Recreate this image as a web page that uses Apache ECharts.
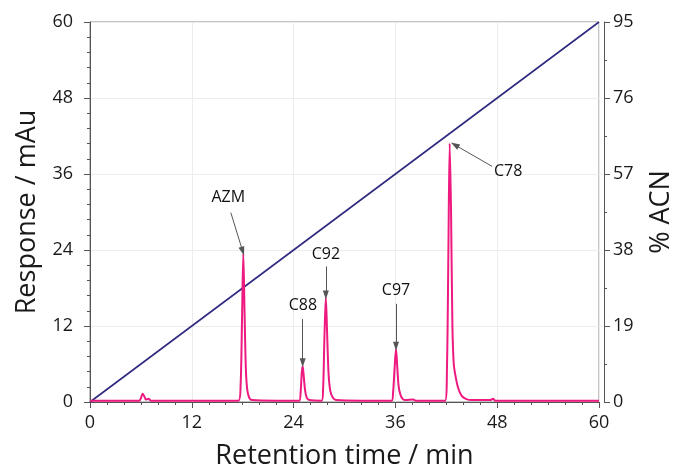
<!DOCTYPE html>
<html>
<head>
<meta charset="utf-8">
<script src="https://cdn.jsdelivr.net/npm/echarts@6/dist/echarts.min.js"></script>
<style>
  html, body { margin: 0; padding: 0; background: #fff; }
  #chart { width: 678px; height: 469px; }
</style>
</head>
<body>
<div id="chart"></div>
<script>
// retention time (min) and response (mAu)
const times = [0, 3, 5.8, 6.0, 6.2, 6.4, 6.6, 6.9, 7.2, 10, 14, 17.5, 17.75, 17.92, 18.07, 18.22, 18.38, 18.55, 18.8, 19.1,
  22, 24.65, 24.83, 24.96, 25.07, 25.2, 25.36, 25.55, 25.85, 27.3, 27.48, 27.64, 27.8, 27.96, 28.12, 28.32, 28.62, 29.0,
  32, 35.55, 35.73, 35.9, 36.07, 36.22, 36.38, 36.58, 36.85, 37.2, 38.1, 38.4, 40, 41.85, 42.08, 42.24, 42.4, 42.56, 42.72,
  42.88, 43.1, 43.4, 43.8, 44.3, 45, 47.2, 47.5, 47.8, 52, 56, 60];
const response = [0.2, 0.2, 0.2, 0.6, 1.3, 0.9, 0.4, 0.5, 0.2, 0.2, 0.2, 0.2, 2.5, 13, 23.4, 14, 5, 1.8, 0.6, 0.3,
  0.2, 0.2, 1.6, 4.6, 5.7, 4.0, 1.8, 0.7, 0.3, 0.2, 2.2, 10.5, 16.5, 10.5, 4.5, 1.8, 0.7, 0.3,
  0.2, 0.2, 1.6, 5.2, 8.4, 5.5, 2.5, 1.2, 0.5, 0.3, 0.4, 0.2, 0.2, 0.2, 5.5, 23, 40.8, 30, 12,
  6, 4, 2.2, 1.0, 0.5, 0.3, 0.3, 0.5, 0.2, 0.2, 0.2, 0.2];

// gradient (% ACN)
const gradTimes = [0, 60];
const gradACN = [0, 95];

// peak labels: name, text position, arrow start, arrow end (data units)
const peakNames = ["AZM", "C88", "C92", "C97", "C78"];
const labelPos = [[16.3, 32.3], [25.1, 15.2], [27.8, 23.3], [36.07, 17.6], [49.3, 36.4]];
const arrowFrom = [[16.6, 29.9], [25.07, 13.1], [27.8, 21.4], [36.07, 15.5], [47.4, 37.2]];
const arrowTo = [[18.0, 23.8], [25.07, 6.2], [27.8, 16.9], [36.07, 8.8], [43.0, 40.6]];

const font = "'Open Sans', 'Noto Sans', sans-serif";
const myChart = echarts.init(document.getElementById("chart"));

const axisCommon = {
  nameLocation: "middle",
  nameTextStyle: { fontSize: 27, color: "#1a1a1a", fontFamily: font },
  axisLine: { show: true, lineStyle: { color: "#555" } },
  axisTick: { show: true, length: 6, lineStyle: { color: "#555" } },
  axisLabel: { fontSize: 18, color: "#1a1a1a", margin: 9, fontFamily: font }
};

const option = {
  animation: false,
  grid: {
    left: 90, right: 79, top: 22, bottom: 67,
    containLabel: false, outerBoundsMode: "none",
    show: true, borderColor: "#888", borderWidth: 1
  },
  xAxis: {
    ...axisCommon,
    type: "value", min: 0, max: 60, interval: 12,
    offset: 5,
    name: "Retention time / min", nameGap: 36,
    minorTick: { show: true, splitNumber: 6, length: 3, lineStyle: { color: "#555" } },
    axisLabel: { ...axisCommon.axisLabel, margin: 7 },
    splitLine: { show: true, lineStyle: { color: "#ececec" } }
  },
  yAxis: [
    {
      ...axisCommon,
      type: "value", min: 0, max: 60, interval: 12,
      offset: 8,
      name: "Response / mAu", nameGap: 41,
      minorTick: { show: true, splitNumber: 5, length: 3, lineStyle: { color: "#555" } },
      splitLine: { show: true, lineStyle: { color: "#ececec" } }
    },
    {
      ...axisCommon,
      type: "value", min: 0, max: 95, interval: 19,
      position: "right", offset: 5,
      name: "% ACN", nameGap: 44,
      minorTick: { show: true, splitNumber: 2, length: 3, lineStyle: { color: "#555" } },
      splitLine: { show: false }
    }
  ],
  series: [
    {
      name: "gradient",
      type: "line",
      yAxisIndex: 1,
      symbol: "none",
      lineStyle: { color: "#2f2a80", width: 1.6 },
      data: gradTimes.map((t, i) => [t, gradACN[i]])
    },
    {
      name: "response",
      type: "line",
      symbol: "none",
      smooth: 0.3,
      lineStyle: { color: "#ee1a80", width: 2 },
      data: times.map((t, i) => [t, response[i]]),
      markLine: {
        silent: true,
        symbol: ["none", "triangle"],
        symbolSize: [6, 9],
        label: { show: false },
        lineStyle: { color: "#555", width: 1, type: "solid" },
        itemStyle: { color: "#111" },
        data: peakNames.map((n, i) => [
          { coord: arrowFrom[i] },
          { coord: arrowTo[i] }
        ])
      }
    },
    {
      name: "labels",
      type: "scatter",
      symbolSize: 0,
      silent: true,
      itemStyle: { opacity: 1 },
      label: {
        show: true, position: "inside",
        formatter: p => peakNames[p.dataIndex],
        fontSize: 16, color: "#111", fontFamily: font
      },
      data: labelPos
    }
  ]
};

myChart.setOption(option);
</script>
</body>
</html>
